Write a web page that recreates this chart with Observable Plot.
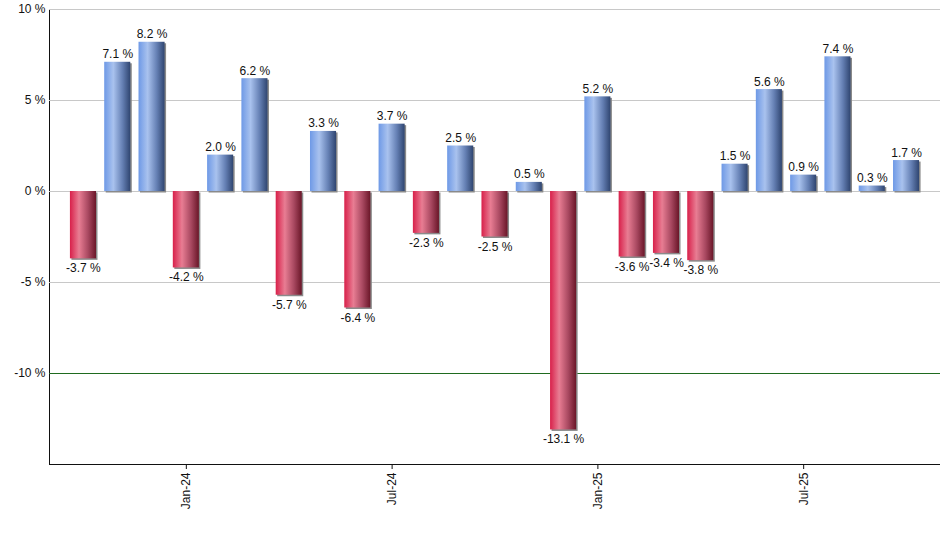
<!DOCTYPE html>
<html>
<head>
<meta charset="utf-8">
<script src="https://cdn.jsdelivr.net/npm/d3@7"></script>
<script src="https://cdn.jsdelivr.net/npm/@observablehq/plot@0.6"></script>
<style>
  html, body { margin: 0; padding: 0; background: #fff; }
  #chart svg { display: block; }
</style>
</head>
<body>
<div id="chart"></div>
<script>
const months = ["Oct-23","Nov-23","Dec-23","Jan-24","Feb-24","Mar-24","Apr-24","May-24","Jun-24","Jul-24","Aug-24","Sep-24","Oct-24","Nov-24","Dec-24","Jan-25","Feb-25","Mar-25","Apr-25","May-25","Jun-25","Jul-25","Aug-25","Sep-25","Oct-25"];
const values = [-3.7, 7.1, 8.2, -4.2, 2.0, 6.2, -5.7, 3.3, -6.4, 3.7, -2.3, 2.5, -2.5, 0.5, -13.1, 5.2, -3.6, -3.4, -3.8, 1.5, 5.6, 0.9, 7.4, 0.3, 1.7];
const xTicks = ["Jan-24","Jul-24","Jan-25","Jul-25"];
const yTicks = [-10, -5, 0, 5, 10];
const gridLines = [-5, 0, 5, 10];
const thresholdLine = [-10];

const data = months.map((m, i) => ({month: m, value: values[i]}));
const pos = data.filter(d => d.value >= 0);
const neg = data.filter(d => d.value < 0);

function gradientDefs() {
  const defs = d3.create("svg:defs");
  const mk = (id, stops) => {
    const g = defs.append("linearGradient").attr("id", id)
      .attr("x1", "0").attr("x2", "1").attr("y1", "0").attr("y2", "0");
    for (const [o, c] of stops) g.append("stop").attr("offset", o).attr("stop-color", c);
  };
  mk("gradBlue", [[0, "#6e99e6"], [0.35, "#a9c2ee"], [0.7, "#6580b4"], [1, "#2f4570"]]);
  mk("gradRed", [[0, "#d8204a"], [0.35, "#e87d93"], [0.7, "#a84860"], [1, "#6a1628"]]);
  return defs.node();
}

const font = "'Liberation Sans', Arial, sans-serif";

const chart = Plot.plot({
  width: 940,
  height: 550,
  marginLeft: 49,
  marginRight: 0,
  marginTop: 9,
  marginBottom: 86,
  style: {fontFamily: font, fontSize: "12px", color: "#111", background: "#fff"},
  x: {
    type: "band",
    domain: months,
    paddingInner: 0.24,
    paddingOuter: 0.61,
    round: false,
    label: null,
    ticks: xTicks,
    tickRotate: -90,
    tickSize: 5,
    tickPadding: 3,
    line: true
  },
  y: {
    domain: [-15, 10],
    label: null,
    ticks: yTicks,
    tickFormat: d => `${d} %`,
    tickSize: 0,
    tickPadding: 4,
    line: true
  },
  marks: [
    gradientDefs,
    Plot.ruleY(gridLines, {stroke: "#c8c8c8", strokeWidth: 1}),
    Plot.ruleY(thresholdLine, {stroke: "#1f6b1f", strokeWidth: 1}),
    Plot.barY(data, {x: "month", y: "value", fill: "#8a8a8a", dx: 1.5, dy: 1.5}),
    Plot.barY(pos, {x: "month", y: "value", fill: "url(#gradBlue)"}),
    Plot.barY(neg, {x: "month", y: "value", fill: "url(#gradRed)"}),
    Plot.text(pos, {x: "month", y: "value", text: d => `${d.value.toFixed(1)} %`, lineAnchor: "bottom", dy: -4, fill: "#111", fontSize: 12}),
    Plot.text(neg, {x: "month", y: "value", text: d => `${d.value.toFixed(1)} %`, lineAnchor: "top", dy: 5, fill: "#111", fontSize: 12})
  ]
});

document.getElementById("chart").appendChild(chart);
</script>
</body>
</html>
